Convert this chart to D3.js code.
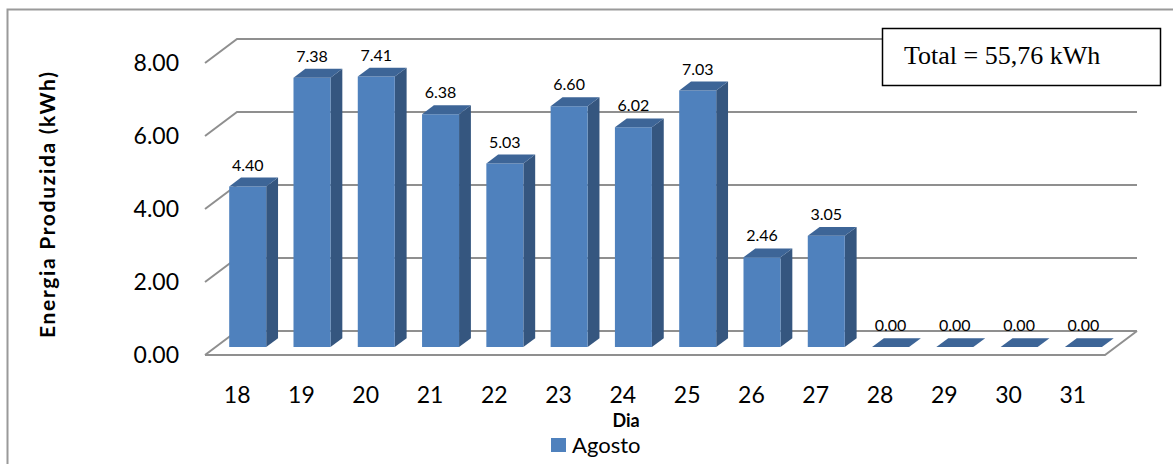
<!DOCTYPE html>
<html lang="pt">
    <head>
        <meta charset="utf-8">
        <title>Energia Produzida - Agosto</title>
        <script src="https://d3js.org/d3.v7.min.js"></script>
        <style type="text/css">
          body {
            margin: 0;
            background: #fff;
          }
          svg {
            display: block;
            font-family: Lato, "Open Sans", sans-serif;
          }
          .grid {
            fill: none;
            stroke: #8f8f8f;
            stroke-width: 2;
          }
          .front { fill: #4f81bd; }
          .side { fill: #35567f; }
          .top { fill: #3d6597; }
          .tick-label { font-size: 23px; fill: #000; }
          .value-label { font-size: 16px; fill: #000; }
        </style>
    </head>
    <body>
        <script type="text/javascript">

         // data
         var days = ["18", "19", "20", "21", "22", "23", "24", "25", "26", "27", "28", "29", "30", "31"];
         var agosto = [4.40, 7.38, 7.41, 6.38, 5.03, 6.60, 6.02, 7.03, 2.46, 3.05, 0.00, 0.00, 0.00, 0.00];
         var yTicks = [0, 2, 4, 6, 8];
         var seriesName = "Agosto";
         var totalText = "Total = 55,76 kWh";

         var w = 1173, h = 464;

         var svg = d3.select("body")
                     .append("svg")
                     .attr("width", w)
                     .attr("height", h);

         // chart frame (only top and left edges are inside the picture)
         svg.append("rect")
            .attr("x", 7.5).attr("y", 9.5)
            .attr("width", 1300).attr("height", 600)
            .style("fill", "none")
            .style("stroke", "#9a9a9a")
            .style("stroke-width", 2);

         // 3d layout: front floor line, depth offset
         var floorY = 355;
         var depth = [32, -24];   // dx, dy from front to back wall

         var x = d3.scaleBand()
                   .domain(days)
                   .range([205, 1105]);

         var y = d3.scaleLinear()
                   .domain([0, 8])
                   .range([0, 292]);

         // project (front x, value, depth fraction) to screen
         function pt(px, v, t) {
             return [px + depth[0] * t, floorY + depth[1] * t - y(v)];
         }

         // gridlines: side wall diagonal + back wall line
         var g = svg.append("g");
         yTicks.forEach(function (v) {
             var a = pt(x.range()[0], v, 0),
                 b = pt(x.range()[0], v, 1),
                 c = pt(x.range()[1], v, 1);
             g.append("path")
              .attr("class", "grid")
              .attr("d", "M" + a + "L" + b + "L" + c);
         });
         // floor outline
         var f0 = pt(x.range()[0], 0, 0), f1 = pt(x.range()[1], 0, 0),
             f2 = pt(x.range()[1], 0, 1);
         g.append("path")
          .attr("class", "grid")
          .attr("d", "M" + f0 + "L" + f1 + "L" + f2);

         // y tick labels
         svg.append("g").selectAll("text")
            .data(yTicks)
            .enter()
            .append("text")
            .attr("class", "tick-label")
            .attr("x", 179)
            .attr("y", function (d) { return pt(0, d, 0)[1]; })
            .attr("dy", "0.36em")
            .attr("text-anchor", "end")
            .text(function (d) { return d.toFixed(2); });

         // x tick labels
         svg.append("g").selectAll("text")
            .data(days)
            .enter()
            .append("text")
            .attr("class", "tick-label")
            .attr("x", function (d) { return x(d) + x.bandwidth() / 2; })
            .attr("y", 395)
            .attr("dy", "0.36em")
            .attr("text-anchor", "middle")
            .text(function (d) { return d; });

         // bars
         var barW = 37, t0 = 0.33, t1 = 0.70;
         var bars = svg.append("g").selectAll("g")
                       .data(days.map(function (d, i) { return { day: d, v: agosto[i] }; }))
                       .enter()
                       .append("g");

         function poly(points) {
             return "M" + points.join("L") + "Z";
         }

         bars.each(function (d) {
             var sel = d3.select(this);
             var xl = x(d.day) + x.bandwidth() / 2 - barW / 2,
                 xr = xl + barW;
             if (d.v > 0) {
                 sel.append("path").attr("class", "side")
                    .attr("d", poly([pt(xr, 0, t0), pt(xr, 0, t1), pt(xr, d.v, t1), pt(xr, d.v, t0)]));
                 sel.append("path").attr("class", "front")
                    .attr("d", poly([pt(xl, 0, t0), pt(xr, 0, t0), pt(xr, d.v, t0), pt(xl, d.v, t0)]));
             }
             sel.append("path").attr("class", "top")
                .attr("d", poly([pt(xl, d.v, t0), pt(xr, d.v, t0), pt(xr, d.v, t1), pt(xl, d.v, t1)]));
             // label centred over the front face, just above the top
             var cx = pt(xl + barW / 2, d.v, t0)[0],
                 ty = pt(xl, d.v, t1)[1];
             sel.append("text")
                .attr("class", "value-label")
                .attr("x", cx)
                .attr("y", ty - 7)
                .attr("text-anchor", "middle")
                .text(d.v.toFixed(2));
         });

         // axis titles
         svg.append("text")
            .attr("transform", "translate(55,205) rotate(-90)")
            .attr("text-anchor", "middle")
            .attr("textLength", 266)
            .style("font-size", "21px")
            .style("font-weight", "bold")
            .text("Energia Produzida (kWh)");

         svg.append("text")
            .attr("x", 626).attr("y", 427)
            .attr("text-anchor", "middle")
            .style("font-size", "18px")
            .style("font-weight", "bold")
            .text("Dia");

         // legend
         svg.append("rect")
            .attr("x", 551).attr("y", 438)
            .attr("width", 15).attr("height", 14)
            .attr("class", "front");
         svg.append("text")
            .attr("x", 572).attr("y", 453)
            .style("font-size", "22px")
            .text(seriesName);

         // total box
         svg.append("rect")
            .attr("x", 882.5).attr("y", 28.5)
            .attr("width", 278).attr("height", 57)
            .style("fill", "#fff")
            .style("stroke", "#000")
            .style("stroke-width", 1.5);
         svg.append("text")
            .attr("x", 904).attr("y", 64)
            .style("font-family", "'Liberation Serif', 'Times New Roman', serif")
            .style("font-size", "26px")
            .text(totalText);

        </script>
    </body>
</html>
